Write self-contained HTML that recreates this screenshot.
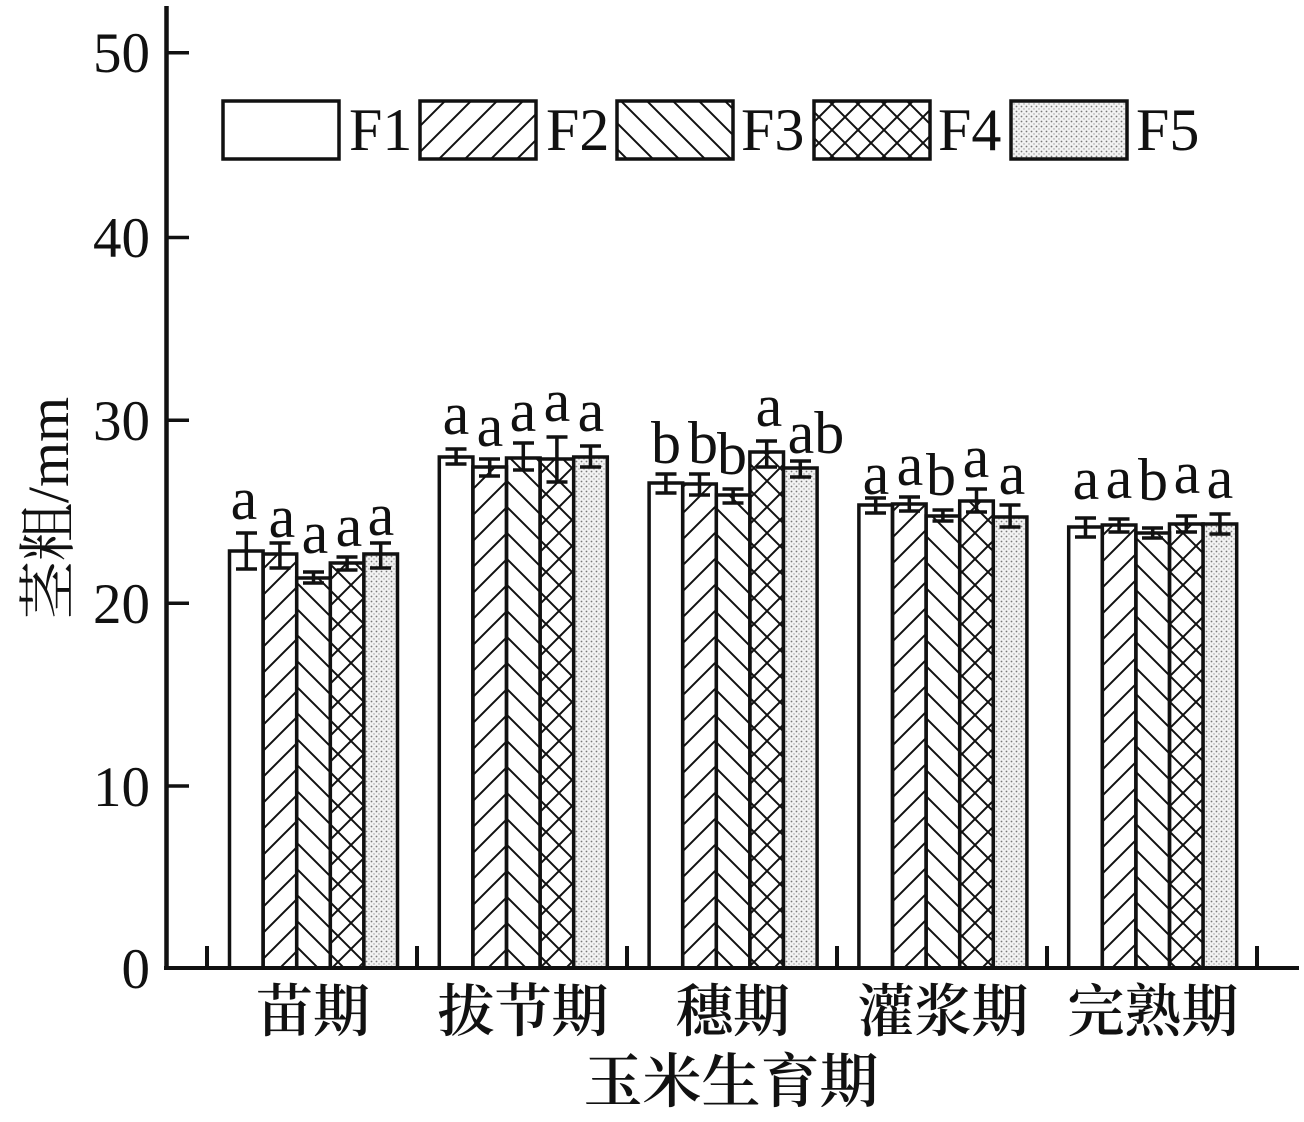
<!DOCTYPE html>
<html>
<head>
<meta charset="utf-8">
<style>
  html, body { margin: 0; padding: 0; background: #fff; }
  svg { display: block; }
  .lat { font-family: "Liberation Serif", "Noto Serif CJK SC", serif; fill: #111; }
  .cjk { font-family: "Liberation Serif", "Noto Serif CJK SC", serif; fill: #111; }
</style>
</head>
<body>
<svg width="1304" height="1122" viewBox="0 0 1304 1122" xmlns="http://www.w3.org/2000/svg">
  <defs>
    <pattern id="p2" patternUnits="userSpaceOnUse" width="26" height="26">
      <path d="M-2,28 L28,-2 M-15,15 L15,-15 M11,41 L41,11" stroke="#111" stroke-width="2"/>
    </pattern>
    <pattern id="p3" patternUnits="userSpaceOnUse" width="26" height="26">
      <path d="M-2,-2 L28,28 M-15,11 L15,41 M11,-15 L41,15" stroke="#111" stroke-width="2"/>
    </pattern>
    <pattern id="p4" patternUnits="userSpaceOnUse" width="26" height="26">
      <path d="M-2,28 L28,-2 M-15,15 L15,-15 M11,41 L41,11 M-2,-2 L28,28 M-15,11 L15,41 M11,-15 L41,15" stroke="#111" stroke-width="2"/>
    </pattern>
    <pattern id="p5" patternUnits="userSpaceOnUse" width="5" height="5">
      <rect width="5" height="5" fill="#f2f2f2"/>
      <circle cx="1.5" cy="1.5" r="0.9" fill="#777"/>
      <circle cx="4" cy="4" r="0.7" fill="#999"/>
    </pattern>
  </defs>

  <!-- Legend -->
  <g stroke="#111" stroke-width="3.5">
    <rect x="223" y="101" width="116" height="58" fill="#fff"/>
    <rect x="420" y="101" width="116" height="58" fill="url(#p2)"/>
    <rect x="617" y="101" width="116" height="58" fill="url(#p3)"/>
    <rect x="814" y="101" width="116" height="58" fill="url(#p4)"/>
    <rect x="1011" y="101" width="116" height="58" fill="url(#p5)"/>
  </g>
  <g class="lat" font-size="60">
    <text x="349" y="150">F1</text>
    <text x="546" y="150">F2</text>
    <text x="741" y="150">F3</text>
    <text x="938" y="150">F4</text>
    <text x="1136" y="150">F5</text>
  </g>

  <!-- Bars -->
  <g stroke="#111" stroke-width="3.5">
    <rect x="229.5" y="551" width="33.6" height="417" fill="#fff"/>
    <rect x="263.1" y="554" width="33.6" height="414" fill="url(#p2)"/>
    <rect x="296.7" y="578" width="33.6" height="390" fill="url(#p3)"/>
    <rect x="330.3" y="563" width="33.6" height="405" fill="url(#p4)"/>
    <rect x="363.9" y="554" width="33.6" height="414" fill="url(#p5)"/>

    <rect x="439.3" y="457" width="33.6" height="511" fill="#fff"/>
    <rect x="472.9" y="467" width="33.6" height="501" fill="url(#p2)"/>
    <rect x="506.5" y="458" width="33.6" height="510" fill="url(#p3)"/>
    <rect x="540.1" y="459" width="33.6" height="509" fill="url(#p4)"/>
    <rect x="573.7" y="457" width="33.6" height="511" fill="url(#p5)"/>

    <rect x="649.1" y="483" width="33.6" height="485" fill="#fff"/>
    <rect x="682.7" y="484" width="33.6" height="484" fill="url(#p2)"/>
    <rect x="716.3" y="495" width="33.6" height="473" fill="url(#p3)"/>
    <rect x="749.9" y="452" width="33.6" height="516" fill="url(#p4)"/>
    <rect x="783.5" y="468" width="33.6" height="500" fill="url(#p5)"/>

    <rect x="858.9" y="505" width="33.6" height="463" fill="#fff"/>
    <rect x="892.5" y="504" width="33.6" height="464" fill="url(#p2)"/>
    <rect x="926.1" y="516" width="33.6" height="452" fill="url(#p3)"/>
    <rect x="959.7" y="501" width="33.6" height="467" fill="url(#p4)"/>
    <rect x="993.3" y="517" width="33.6" height="451" fill="url(#p5)"/>

    <rect x="1068.7" y="527" width="33.6" height="441" fill="#fff"/>
    <rect x="1102.3" y="525" width="33.6" height="443" fill="url(#p2)"/>
    <rect x="1135.9" y="533" width="33.6" height="435" fill="url(#p3)"/>
    <rect x="1169.5" y="524" width="33.6" height="444" fill="url(#p4)"/>
    <rect x="1203.1" y="524" width="33.6" height="444" fill="url(#p5)"/>
  </g>

  <!-- Error bars -->
  <g stroke="#111" stroke-width="3.5" fill="none">
    <path d="M246.3,533V569M236,533H257M236,569H257"/>
    <path d="M279.9,543V568M269.5,543H290.5M269.5,568H290.5"/>
    <path d="M313.5,572V583M303,572H324M303,583H324"/>
    <path d="M347.1,557V570M336.5,557H357.5M336.5,570H357.5"/>
    <path d="M380.7,543V568M370,543H391M370,568H391"/>

    <path d="M456.1,449V464M445.5,449H466.5M445.5,464H466.5"/>
    <path d="M489.7,459V476M479,459H500M479,476H500"/>
    <path d="M523.3,443V470M513,443H534M513,470H534"/>
    <path d="M556.9,437V482M546.5,437H567.5M546.5,482H567.5"/>
    <path d="M590.5,446V467M580,446H601M580,467H601"/>

    <path d="M665.9,474V493M655.5,474H676.5M655.5,493H676.5"/>
    <path d="M699.5,474V495M689,474H710M689,495H710"/>
    <path d="M733.1,489V503M722.5,489H743.5M722.5,503H743.5"/>
    <path d="M766.7,441V467M756,441H777M756,467H777"/>
    <path d="M800.3,461V477M790,461H811M790,477H811"/>

    <path d="M875.7,498V513M865,498H886M865,513H886"/>
    <path d="M909.3,497V511M899,497H920M899,511H920"/>
    <path d="M942.9,510V521M932.5,510H953.5M932.5,521H953.5"/>
    <path d="M976.5,489V512M966,489H987M966,512H987"/>
    <path d="M1010.1,505V527M999.5,505H1020.5M999.5,527H1020.5"/>

    <path d="M1085.5,518V537M1075,518H1096M1075,537H1096"/>
    <path d="M1119.1,519V532M1108.5,519H1129.5M1108.5,532H1129.5"/>
    <path d="M1152.7,528V538M1142,528H1163M1142,538H1163"/>
    <path d="M1186.3,516V532M1176,516H1197M1176,532H1197"/>
    <path d="M1219.9,514V534M1209.5,514H1230.5M1209.5,534H1230.5"/>
  </g>

  <!-- Significance letters -->
  <g class="lat" font-size="60" text-anchor="middle">
    <text x="244" y="519">a</text>
    <text x="282" y="537">a</text>
    <text x="315" y="553">a</text>
    <text x="349" y="546">a</text>
    <text x="381" y="535">a</text>

    <text x="456" y="434">a</text>
    <text x="490" y="446">a</text>
    <text x="523" y="431">a</text>
    <text x="557" y="421">a</text>
    <text x="591" y="431">a</text>

    <text x="666" y="463">b</text>
    <text x="703" y="463">b</text>
    <text x="732" y="474">b</text>
    <text x="769" y="426">a</text>
    <text x="816" y="453">ab</text>

    <text x="876" y="494">a</text>
    <text x="910" y="485">a</text>
    <text x="941" y="495">b</text>
    <text x="976" y="477">a</text>
    <text x="1012" y="494">a</text>

    <text x="1086" y="499">a</text>
    <text x="1119" y="498">a</text>
    <text x="1153" y="500">b</text>
    <text x="1187" y="493">a</text>
    <text x="1220" y="498">a</text>
  </g>

  <!-- Axes -->
  <g stroke="#111" fill="none">
    <line x1="166.5" y1="6" x2="166.5" y2="970" stroke-width="4.5"/>
    <line x1="164" y1="968" x2="1299" y2="968" stroke-width="4"/>
    <g stroke-width="3.5">
      <line x1="166" y1="52.7" x2="189" y2="52.7"/>
      <line x1="166" y1="237.5" x2="189" y2="237.5"/>
      <line x1="166" y1="420.3" x2="189" y2="420.3"/>
      <line x1="166" y1="603.3" x2="189" y2="603.3"/>
      <line x1="166" y1="786" x2="189" y2="786"/>
    </g>
    <g stroke-width="4">
      <line x1="207" y1="946" x2="207" y2="968"/>
      <line x1="417" y1="946" x2="417" y2="968"/>
      <line x1="627" y1="946" x2="627" y2="968"/>
      <line x1="837" y1="946" x2="837" y2="968"/>
      <line x1="1047" y1="946" x2="1047" y2="968"/>
      <line x1="1257" y1="946" x2="1257" y2="968"/>
    </g>
  </g>

  <!-- Y tick labels -->
  <g class="lat" font-size="57" text-anchor="end">
    <text x="150" y="72">50</text>
    <text x="150" y="257">40</text>
    <text x="150" y="440">30</text>
    <text x="150" y="623">20</text>
    <text x="150" y="806">10</text>
    <text x="150" y="988">0</text>
  </g>

  <!-- Y axis title -->
  <g transform="translate(46,508) rotate(-90)">
    <text class="cjk" x="0" y="22" font-size="58" text-anchor="middle">茎粗/mm</text>
  </g>

  <!-- Category labels -->
  <g class="cjk" font-size="57" font-weight="600" text-anchor="middle">
    <text x="313" y="1031">苗期</text>
    <text x="523" y="1031">拔节期</text>
    <text x="733" y="1031">穗期</text>
    <text x="943" y="1031">灌浆期</text>
    <text x="1153" y="1031">完熟期</text>
  </g>

  <!-- X axis title -->
  <text class="cjk" x="731" y="1102" font-size="59" font-weight="600" text-anchor="middle">玉米生育期</text>
</svg>
</body>
</html>
